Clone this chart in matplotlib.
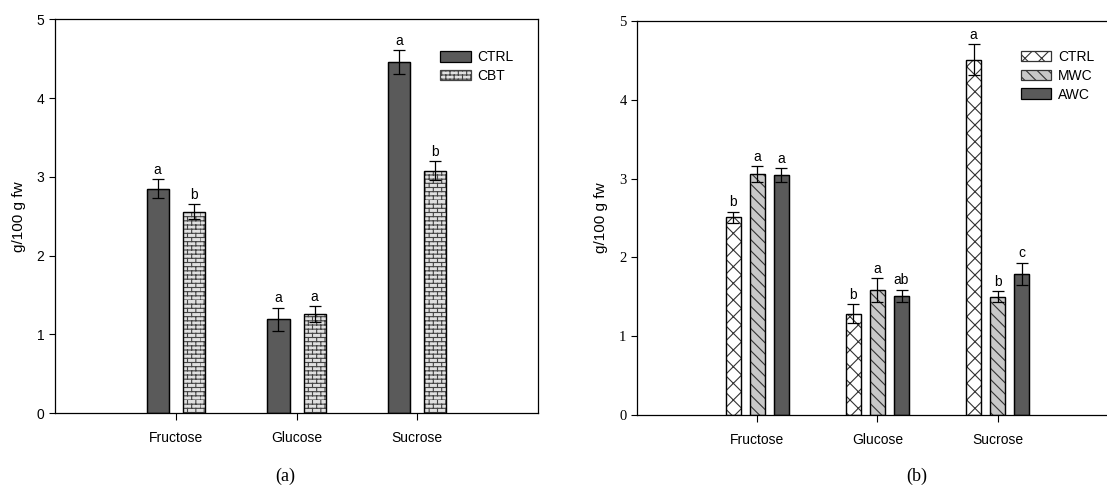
import numpy as np
import matplotlib
matplotlib.use("Agg")
import matplotlib.pyplot as plt
import matplotlib.hatch as mhatch
from matplotlib.path import Path


sugars = ["Fructose", "Glucose", "Sucrose"]

# panel (a)
a_series = ["CTRL", "CBT"]
a_means = [[2.85, 1.19, 4.46],
           [2.56, 1.26, 3.08]]
a_err = [[0.12, 0.15, 0.15],
         [0.09, 0.10, 0.12]]
a_letters = [["a", "a", "a"],
             ["b", "a", "b"]]

# panel (b)
b_series = ["CTRL", "MWC", "AWC"]
b_means = [[2.51, 1.28, 4.51],
           [3.06, 1.58, 1.50],
           [3.04, 1.51, 1.79]]
b_err = [[0.07, 0.12, 0.20],
         [0.10, 0.15, 0.07],
         [0.09, 0.08, 0.14]]
b_letters = [["b", "b", "a"],
             ["a", "a", "b"],
             ["a", "ab", "c"]]


class Bricks(mhatch.HatchPatternBase):
    # brick wall hatch, triggered by '*' (stars are not used here)
    def __init__(self, hatch, density):
        self.rows = int(hatch.count("*") * density)
        self.cols = max(self.rows // 2, 1)
        self.num_vertices = 2 * (self.rows + self.rows * self.cols)

    def set_vertices_and_codes(self, vertices, codes):
        n, m = self.rows, self.cols
        ys = np.arange(n) / n
        k = 0
        for y in ys:
            vertices[k] = (0.0, y)
            vertices[k + 1] = (1.0, y)
            k += 2
        for i, y in enumerate(ys):
            off = 0.5 / m if i % 2 else 0.0
            for j in range(m):
                x = j / m + off
                vertices[k] = (x, y)
                vertices[k + 1] = (x, y + 1.0 / n)
                k += 2
        codes[0::2] = Path.MOVETO
        codes[1::2] = Path.LINETO


mhatch._hatch_types = [t for t in mhatch._hatch_types if t is not mhatch.Stars] + [Bricks]

plt.rcParams["font.family"] = ["Liberation Sans", "DejaVu Sans"]
plt.rcParams["hatch.linewidth"] = 0.8

fig = plt.figure(figsize=(11.07, 4.86), dpi=100)


def draw_panel(ax, series, means, errs, letters, width, offsets, styles):
    x = np.arange(1, len(sugars) + 1)
    for s, name in enumerate(series):
        face, hatch, hcol = styles[s]
        xs = x + offsets[s]
        ax.bar(xs, means[s], width, color=face, edgecolor=hcol, hatch=hatch,
               linewidth=0.9, label=name, zorder=2)
        # redraw the outline in black over the hatch colour
        ax.bar(xs, means[s], width, fill=False, edgecolor="black", linewidth=0.9, zorder=3)
        ax.errorbar(xs, means[s], yerr=errs[s], fmt="none", ecolor="black",
                    elinewidth=0.9, capsize=4, capthick=0.9, zorder=4)
        for xi, m, e, lab in zip(xs, means[s], errs[s], letters[s]):
            ax.text(xi, m + e + 0.03, lab, ha="center", va="bottom", fontsize=10)
    ax.set_xlim(0, 4)
    ax.set_ylim(0, 5)
    ax.set_xticks(x)
    ax.set_xticklabels(sugars, fontsize=10)
    ax.tick_params(axis="x", length=5, pad=8, width=0.8)
    ax.tick_params(axis="y", length=4, width=0.8)
    ax.set_ylabel("g/100 g fw", fontsize=11, labelpad=8)
    for sp in ax.spines.values():
        sp.set_linewidth(0.9)


def add_legend(ax, x0, y0):
    ax.legend(loc="upper left", bbox_to_anchor=(x0, y0), frameon=False,
              fontsize=10, handlelength=2.2, handleheight=0.8, handletextpad=0.5,
              labelspacing=0.35, borderpad=0, borderaxespad=0)


# (a)
ax1 = fig.add_axes([0.0497, 0.150, 0.4363, 0.810])
styles_a = [("#5a5a5a", None, "black"),
            ("#e0e0e0", "****", "#444444")]
draw_panel(ax1, a_series, a_means, a_err, a_letters, 0.184, [-0.15, 0.15], styles_a)
ax1.set_yticks([0, 1, 2, 3, 4, 5])
ax1.tick_params(axis="y", labelsize=10)
add_legend(ax1, 0.797, 0.922)

# (b)
ax2 = fig.add_axes([0.5754, 0.1467, 0.4345, 0.810])
styles_b = [("white", "xx", "#333333"),
            ("#c8c8c8", "\\\\\\", "#333333"),
            ("#5a5a5a", None, "black")]
draw_panel(ax2, b_series, b_means, b_err, b_letters, 0.125, [-0.2, 0.0, 0.2], styles_b)
ax2.set_yticks([0, 1, 2, 3, 4, 5])
for t in ax2.get_yticklabels():
    t.set_fontfamily("Liberation Serif")
    t.set_fontsize(10.5)
add_legend(ax2, 0.798, 0.927)

fig.text(0.2575, 0.0206, "(a)", ha="center", va="center", fontsize=13, family="Liberation Serif")
fig.text(0.828, 0.0206, "(b)", ha="center", va="center", fontsize=13, family="Liberation Serif")

fig.savefig("out.png", dpi=100)
